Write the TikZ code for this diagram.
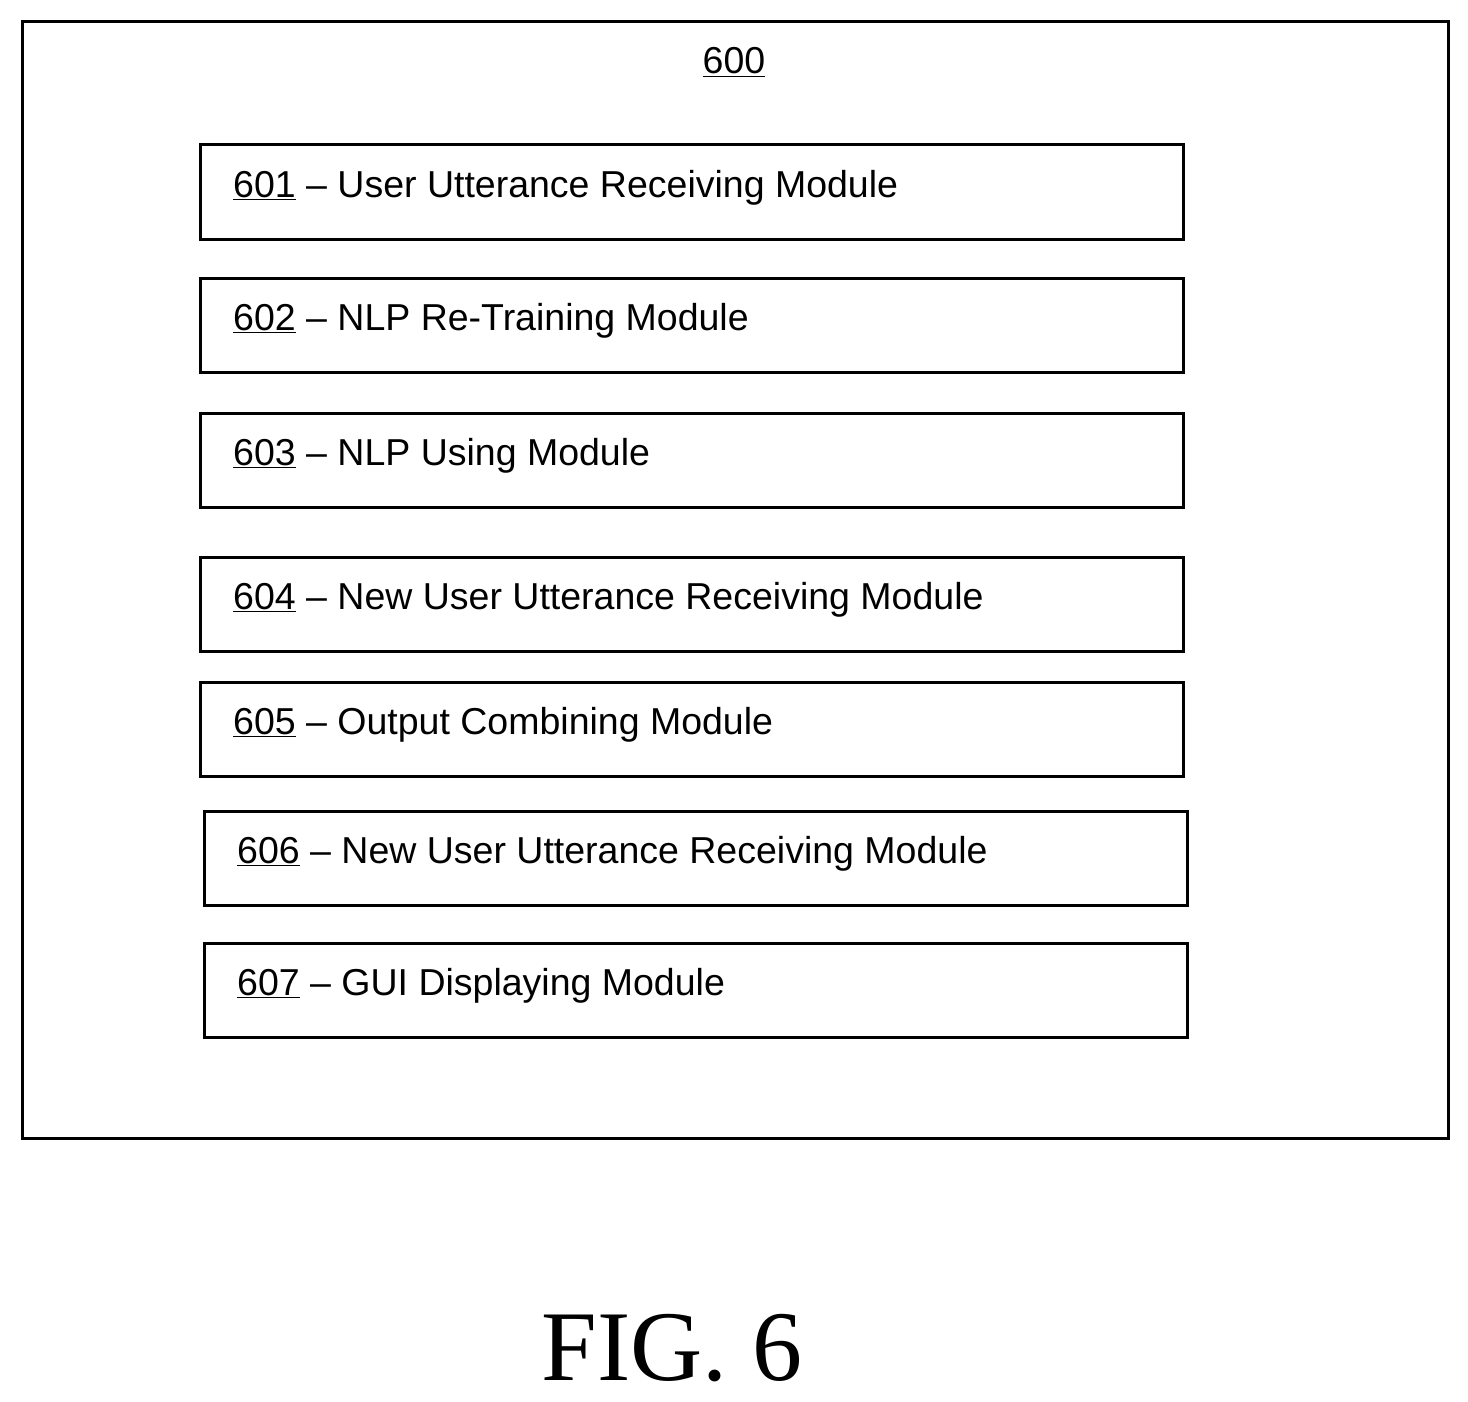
\documentclass[tikz,border=0pt]{standalone}
\usepackage{fontspec}
\setmainfont{Liberation Sans}
\newfontfamily\figfont{Liberation Serif}
\begin{document}
\begin{tikzpicture}[x=1pt,y=-1pt,
  box/.style={draw=black,line width=3pt},
  lbl/.style={anchor=base west,inner sep=0pt,font=\fontsize{37.5}{42}\selectfont}]
\useasboundingbox (0,0) rectangle (1468,1402);
\draw[box] (22,22) rectangle (1448,1138);
\node[anchor=base,inner sep=0pt,font=\fontsize{37.5}{42}\selectfont] (t600) at (734,74) {\underline{600}};
\foreach \n/\x/\y/\t in {601/200/145/User Utterance Receiving Module,
  602/200/278/NLP Re-Training Module,
  603/200/413/NLP Using Module,
  604/200/557/New User Utterance Receiving Module,
  605/200/682/Output Combining Module,
  606/204/811/New User Utterance Receiving Module,
  607/204/943/GUI Displaying Module}{
  \draw[box] (\x,\y) rectangle ++(983,94);
  \node[lbl] (m\n) at (\x+33,\y+52) {\underline{\n} -- \t};
}
\node[anchor=base,inner sep=0pt,font=\figfont\fontsize{100}{110}\selectfont] (fig) at (672,1380) {FIG. 6};
\end{tikzpicture}
\end{document}
